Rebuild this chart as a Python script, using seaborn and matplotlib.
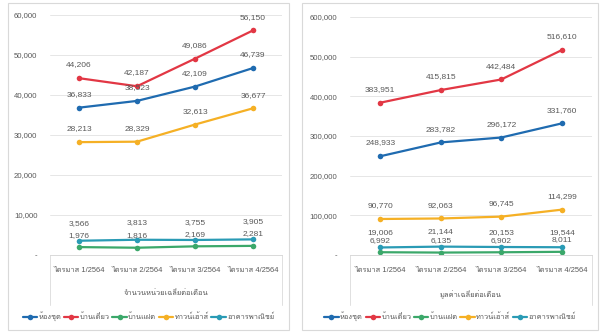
import matplotlib
matplotlib.use("Agg")
import matplotlib.pyplot as plt
from matplotlib import font_manager
from matplotlib.ft2font import FT2Font
from matplotlib.patches import Rectangle
import seaborn as sns
import pandas as pd

categories = ["ไตรมาส 1/2564", "ไตรมาส 2/2564", "ไตรมาส 3/2564", "ไตรมาส 4/2564"]
series_names = ["ห้องชุด", "บ้านเดี่ยว", "บ้านแฝด", "ทาวน์เฮ้าส์", "อาคารพาณิชย์"]

units_condo = [36833, 38523, 42109, 46739]
units_detached = [44206, 42187, 49086, 56150]
units_twin = [1976, 1816, 2169, 2281]
units_town = [28213, 28329, 32613, 36677]
units_shop = [3566, 3813, 3755, 3905]

value_condo = [248933, 283782, 296172, 331760]
value_detached = [383951, 415815, 442484, 516610]
value_twin = [6992, 6135, 6902, 8011]
value_town = [90770, 92063, 96745, 114299]
value_shop = [19006, 21144, 20153, 19544]

left_title = "จำนวนหน่วยเฉลี่ยต่อเดือน"
right_title = "มูลค่าเฉลี่ยต่อเดือน"
left_ticks = [0, 10000, 20000, 30000, 40000, 50000, 60000]
right_ticks = [0, 100000, 200000, 300000, 400000, 500000, 600000]

colors = ["#1F6BB0", "#E23744", "#3BA86A", "#F5B025", "#2A9BB5"]

sns.set_theme(style="white")

# find a font with Thai glyphs
thai_font = None
for f in font_manager.fontManager.ttflist:
    try:
        ft = FT2Font(f.fname)
        cm = ft.get_charmap()
        if ord("ห") in cm and ord("0") in cm:
            thai_font = f.name
            break
    except Exception:
        pass
fams = ["Liberation Sans"] + ([thai_font] if thai_font else []) + ["DejaVu Sans"]
plt.rcParams["font.family"] = fams

TXT = "#595959"
FS = 5.4
FN = 6.0
W, H = 610, 336
fig = plt.figure(figsize=(W / 100, H / 100), dpi=100)


def px(x0, y0, x1, y1):
    return [x0 / W, 1 - y1 / H, (x1 - x0) / W, (y1 - y0) / H]


def panel(box, axbox, data_lists, ticks, title, offsets):
    # panel border
    fig.patches.append(Rectangle((box[0] / W, 1 - box[3] / H), (box[2] - box[0]) / W,
                                 (box[3] - box[1]) / H, transform=fig.transFigure,
                                 fill=False, edgecolor="#D9D9D9", lw=0.8, zorder=0))
    ax = fig.add_axes(px(*axbox))
    ax.set_facecolor("none")
    rows = []
    for name, vals in zip(series_names, data_lists):
        for c, v in zip(categories, vals):
            rows.append({"cat": c, "series": name, "val": v})
    df = pd.DataFrame(rows)
    sns.lineplot(data=df, x="cat", y="val", hue="series", palette=colors, marker="o",
                 markersize=4, markeredgewidth=0, lw=1.6, ax=ax, legend=True, sort=False)
    ax.set_xlim(-0.5, 3.5)
    ax.set_ylim(ticks[0], ticks[-1])
    ax.set_yticks(ticks)
    ax.set_yticklabels(["-"] + [f"{t:,}" for t in ticks[1:]], fontsize=5.6, color=TXT)
    ax.tick_params(axis="y", length=0, pad=9)
    ax.tick_params(axis="x", length=0, pad=9, labelsize=FS, labelcolor=TXT)
    ax.grid(axis="y", color="#E6E6E6", lw=0.7)
    for s in ["top", "right", "left"]:
        ax.spines[s].set_visible(False)
    ax.spines["bottom"].set_color("#D9D9D9")
    ax.spines["bottom"].set_linewidth(0.7)
    ax.set_xlabel(title, fontsize=FS, color=TXT, labelpad=11)
    ax.set_ylabel("")
    for i, vals in enumerate(data_lists):
        for j, v in enumerate(vals):
            ax.annotate(f"{v:,}", (j, v), xytext=(0, offsets[i]), textcoords="offset points",
                        ha="center", va="bottom", fontsize=FN, color=TXT)
    ax.axvline(-0.5, ymin=-0.21, ymax=0, color="#E0E0E0", lw=0.7, clip_on=False)
    ax.axvline(3.5, ymin=-0.21, ymax=0, color="#E0E0E0", lw=0.7, clip_on=False)
    h, l = ax.get_legend_handles_labels()
    cx = (box[0] + box[2]) / 2 / W
    ax.legend(h, l, loc="upper center", bbox_to_anchor=(cx, 1 - 305 / H),
              bbox_transform=fig.transFigure, ncol=5, frameon=False,
              fontsize=FS, handlelength=1.9, handletextpad=0.2, columnspacing=0.35,
              labelcolor=TXT)
    return ax


panel((8, 3, 289, 330), (50, 15, 282, 255),
      [units_condo, units_detached, units_twin, units_town, units_shop],
      left_ticks, left_title, [7, 7, 6, 7, 10])
panel((302, 3, 598, 330), (350, 17, 592, 255),
      [value_condo, value_detached, value_twin, value_town, value_shop],
      right_ticks, right_title, [7, 7, 6, 7, 8])

fig.savefig("out.png", dpi=100, facecolor="white")
